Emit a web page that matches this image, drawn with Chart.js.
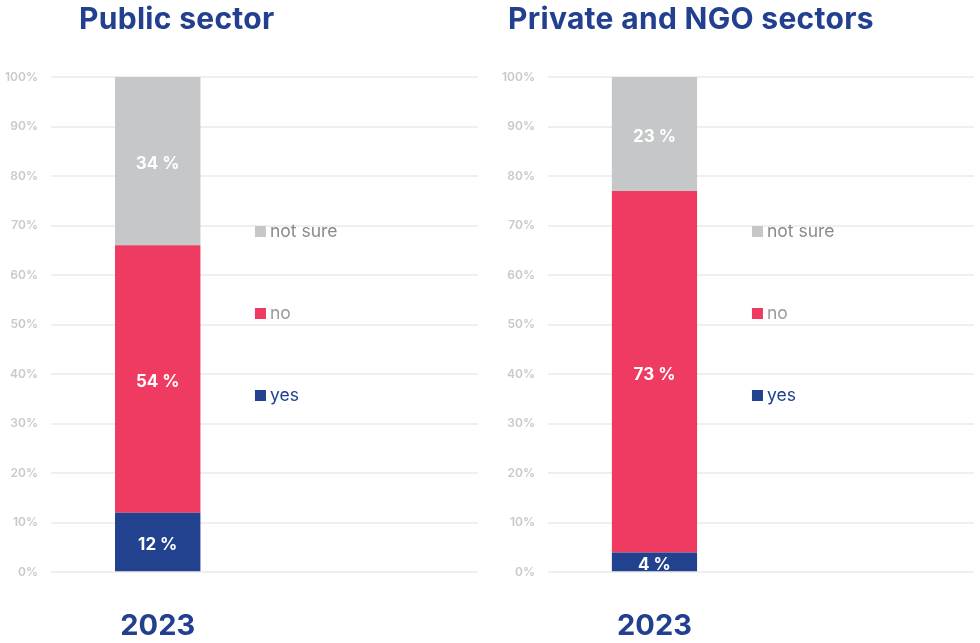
<!DOCTYPE html>
<html>
<head>
<meta charset="utf-8">
<script src="https://cdn.jsdelivr.net/npm/chart.js@4.4.1/dist/chart.umd.min.js"></script>
<style>
  html, body { margin: 0; padding: 0; background: #fff; overflow: hidden; }
  body { width: 980px; height: 643px; position: relative; font-family: Inter, "Open Sans", sans-serif; }
  .panel { position: absolute; top: 0; height: 681px; }
  .panel h2 {
    position: absolute; top: 0; margin: 0;
    font-size: 30px; font-weight: 700; color: #22408f; white-space: nowrap;
    line-height: 36px; letter-spacing: 0.3px;
  }
  .panel canvas { position: absolute; left: 0; top: 0; }
</style>
</head>
<body>
<div class="panel" id="p1" style="left:-8px; width:498px;">
  <canvas id="chartPublic"></canvas>
  <h2 style="left:87px;">Public sector</h2>
</div>
<div class="panel" id="p2" style="left:489px; width:491px;">
  <canvas id="chartPrivate"></canvas>
  <h2 style="left:19px;">Private and NGO sectors</h2>
</div>
<script>
const categories = ['2023'];
const seriesNames = ['yes', 'no', 'not sure'];
const seriesColors = ['#22418f', '#ef3b61', '#c6c7c9'];
const legendTextColors = ['#22418f', '#9a9a9a', '#8a8a8a'];

const publicYes = [12];
const publicNo = [54];
const publicNotSure = [34];

const privateYes = [4];
const privateNo = [73];
const privateNotSure = [23];

const yTickStep = 10;
const yMax = 100;

// white value labels in the middle of each segment
const segmentLabels = {
  id: 'segmentLabels',
  afterDatasetsDraw(chart) {
    const ctx = chart.ctx;
    ctx.save();
    ctx.fillStyle = '#ffffff';
    ctx.font = '700 17px Inter, "Open Sans", sans-serif';
    ctx.textAlign = 'center';
    ctx.textBaseline = 'middle';
    chart.data.datasets.forEach((ds, i) => {
      chart.getDatasetMeta(i).data.forEach((bar, j) => {
        const v = ds.data[j];
        if (v == null) return;
        ctx.fillText(v + ' %', bar.x, (bar.y + bar.base) / 2 + 3);
      });
    });
    ctx.restore();
  }
};

// vertical legend drawn inside the plot, top item = last series
const sideLegend = {
  id: 'sideLegend',
  afterDraw(chart) {
    const ctx = chart.ctx;
    const area = chart.chartArea;
    const x = area.left + 204;
    ctx.save();
    ctx.font = '400 17.5px Inter, "Open Sans", sans-serif';
    ctx.textBaseline = 'middle';
    const n = chart.data.datasets.length;
    for (let k = 0; k < n; k++) {
      const i = n - 1 - k;
      const y = area.top + 154 + k * 82;
      ctx.fillStyle = chart.data.datasets[i].backgroundColor;
      ctx.fillRect(x, y - 5, 11, 11);
      ctx.fillStyle = legendTextColors[i];
      ctx.fillText(chart.data.datasets[i].label, x + 15, y + 1);
    }
    ctx.restore();
  }
};

function makeChart(id, values, padRight) {
  new Chart(document.getElementById(id), {
    type: 'bar',
    data: {
      labels: [...categories, ''],
      datasets: values.map((vals, i) => ({
        label: seriesNames[i],
        data: vals,
        backgroundColor: seriesColors[i],
        barPercentage: 0.4,
        categoryPercentage: 1
      }))
    },
    options: {
      responsive: true,
      maintainAspectRatio: false,
      animation: false,
      layout: { padding: { top: 77, right: padRight, left: 0, bottom: 0 } },
      plugins: {
        legend: { display: false },
        tooltip: { enabled: false }
      },
      scales: {
        x: {
          stacked: true,
          grid: { display: false, drawTicks: false },
          border: { display: false },
          ticks: {
            color: '#22408f',
            padding: 37,
            font: { size: 29, weight: '700', family: 'Inter, "Open Sans", sans-serif' }
          }
        },
        y: {
          stacked: true,
          min: 0,
          max: yMax,
          grid: { color: '#efefef', lineWidth: 2, drawTicks: false },
          border: { display: false },
          ticks: {
            stepSize: yTickStep,
            padding: 13,
            color: '#c9c9c9',
            font: { size: 12, weight: '600', family: 'Inter, "Open Sans", sans-serif' },
            callback: v => v + '%'
          }
        }
      }
    },
    plugins: [segmentLabels, sideLegend]
  });
}

makeChart('chartPublic', [publicYes, publicNo, publicNotSure], 12);
makeChart('chartPrivate', [privateYes, privateNo, privateNotSure], 6);
</script>
</body>
</html>
